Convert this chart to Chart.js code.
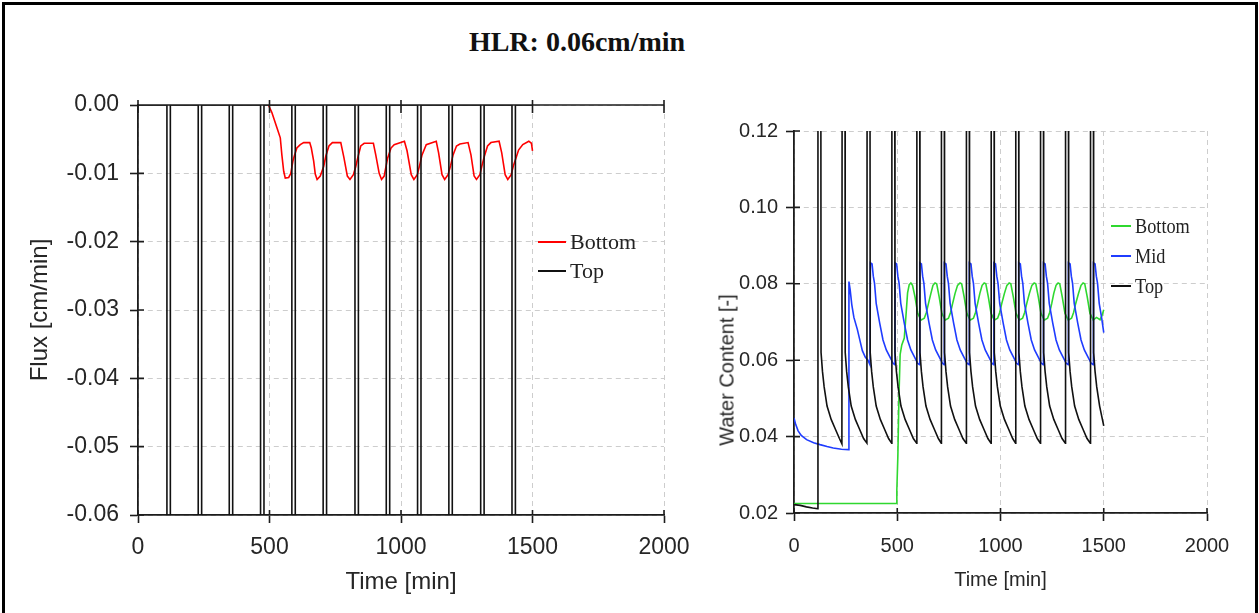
<!DOCTYPE html>
<html>
<head>
<meta charset="utf-8">
<title>HLR: 0.06cm/min</title>
<script src="https://cdn.jsdelivr.net/npm/chart.js@4.4.1/dist/chart.umd.min.js"></script>
<style>
  html, body { margin: 0; padding: 0; background: #fff; }
  body { width: 1259px; height: 613px; position: relative; overflow: hidden; }
  #frame { position: absolute; left: 2px; top: 2px; width: 1250px; height: 660px; border: 3px solid #000; }
  #title { position: absolute; left: 0; top: 27px; width: 1154px; text-align: center;
           font: bold 28px 'Liberation Serif', 'Times New Roman', serif; color: #111; line-height: 1.1; }
  #fluxChart { position: absolute; left: 0; top: 0; }
  #wcChart { position: absolute; left: 690px; top: 0; }
  .legend { position: absolute; font-family: 'Liberation Serif', 'Times New Roman', serif; color: #222; }
  .legend .row { display: flex; align-items: center; white-space: nowrap; }
  .legend .swatch { display: inline-block; height: 2px; }
  #fluxLegend { left: 538px; top: 227px; font-size: 22px; }
  #fluxLegend .row { height: 29px; }
  #fluxLegend .swatch { width: 28px; margin-right: 4px; }
  #wcLegend { left: 1111px; top: 211px; font-size: 22px; }
  #wcLegend .row { height: 30px; }
  #wcLegend .swatch { width: 20px; margin-right: 4px; }
  #wcLegend .txt { display: inline-block; transform: scaleX(0.83); transform-origin: left center; }
  #wcYTitle { position: absolute; left: 727px; top: 370px; transform: translate(-50%, -50%) rotate(-90deg);
              white-space: nowrap; font: 20px 'Liberation Sans', Arial, sans-serif; color: #262626; }
</style>
</head>
<body>
<div id="frame"></div>
<div id="title">HLR: 0.06cm/min</div>
<canvas id="fluxChart" width="710" height="613"></canvas>
<canvas id="wcChart" width="569" height="613"></canvas>
<div id="fluxLegend" class="legend"></div>
<div id="wcLegend" class="legend"></div>
<div id="wcYTitle">Water Content [-]</div>
<script>
// tick values
const timeTicks = [0, 500, 1000, 1500, 2000];
const fluxTicks = [0, -0.01, -0.02, -0.03, -0.04, -0.05, -0.06];
const wcTicks = [0.02, 0.04, 0.06, 0.08, 0.10, 0.12];

// left chart: flux [cm/min] vs time [min]
const fluxBottom = [
  [496, 0], [509, -0.0011], [528, -0.0033], [541, -0.0048], [547, -0.0073], [554, -0.0097], [560, -0.0107],
  [573, -0.0106], [581, -0.0100], [589, -0.0082], [594, -0.0075], [604, -0.0063], [617, -0.0058], [630, -0.0055],
  [653, -0.0055], [659, -0.0063], [668, -0.0082], [674, -0.0101], [681, -0.0109], [693, -0.0104], [706, -0.0090],
  [714, -0.0075], [726, -0.0060], [739, -0.0055], [771, -0.0055], [783, -0.0077], [796, -0.0104], [806, -0.0109],
  [819, -0.0102], [828, -0.0090], [837, -0.0075], [847, -0.0060], [860, -0.0056], [895, -0.0056], [904, -0.0073],
  [917, -0.0100], [926, -0.0109], [936, -0.0104], [949, -0.0078], [962, -0.0063], [974, -0.0058], [1013, -0.0053],
  [1023, -0.0067], [1039, -0.0102], [1049, -0.0109], [1062, -0.0102], [1071, -0.0088], [1080, -0.0073],
  [1096, -0.0058], [1134, -0.0053], [1143, -0.0070], [1156, -0.0102], [1166, -0.0109], [1179, -0.0102],
  [1189, -0.0088], [1198, -0.0073], [1211, -0.0060], [1224, -0.0057], [1255, -0.0055], [1266, -0.0073],
  [1278, -0.0104], [1287, -0.0109], [1300, -0.0102], [1307, -0.0090], [1317, -0.0075], [1329, -0.0060],
  [1342, -0.0055], [1373, -0.0053], [1383, -0.0070], [1396, -0.0102], [1406, -0.0109], [1419, -0.0102],
  [1428, -0.0088], [1437, -0.0078], [1447, -0.0066], [1463, -0.0058], [1486, -0.0053], [1496, -0.0056], [1500, -0.0067]
];
const fluxTop = [
  [0, 0], [110, 0], [110, -0.6], [123, -0.6], [123, 0],
  [229, 0], [229, -0.6], [242, -0.6], [242, 0],
  [347, 0], [347, -0.6], [360, -0.6], [360, 0],
  [466, 0], [466, -0.6], [479, -0.6], [479, 0],
  [585, 0], [585, -0.6], [598, -0.6], [598, 0],
  [704, 0], [704, -0.6], [717, -0.6], [717, 0],
  [825, 0], [825, -0.6], [838, -0.6], [838, 0],
  [944, 0], [944, -0.6], [957, -0.6], [957, 0],
  [1063, 0], [1063, -0.6], [1076, -0.6], [1076, 0],
  [1182, 0], [1182, -0.6], [1195, -0.6], [1195, 0],
  [1303, 0], [1303, -0.6], [1316, -0.6], [1316, 0],
  [1422, 0], [1422, -0.6], [1435, -0.6], [1435, 0], [1500, 0]
];

// right chart: water content [-] vs time [min]
const wcBottom = [
  [0, 0.0225], [494, 0.0225], [498, 0.026], [503, 0.035], [508, 0.050], [514, 0.0615], [522, 0.064], [534, 0.0658],
  [542, 0.0715], [550, 0.0776], [558, 0.0798], [566, 0.0802], [574, 0.0796], [586, 0.0766], [599, 0.0723],
  [615, 0.0705], [631, 0.071], [641, 0.0725], [651, 0.0748], [663, 0.0775], [673, 0.0796],
  [683, 0.0802], [691, 0.080], [703, 0.0766], [716, 0.0723], [732, 0.0705], [748, 0.071], [758, 0.0725],
  [768, 0.0748], [780, 0.0775], [792, 0.0796],
  [804, 0.0802], [812, 0.080], [824, 0.0766], [837, 0.0723], [853, 0.0705], [869, 0.071], [879, 0.0725],
  [889, 0.0748], [900, 0.0775], [911, 0.0796],
  [921, 0.0802], [929, 0.080], [941, 0.0766], [954, 0.0723], [970, 0.0705], [986, 0.071], [996, 0.0725],
  [1006, 0.0748], [1019, 0.0775], [1031, 0.0796],
  [1042, 0.0802], [1050, 0.080], [1062, 0.0766], [1075, 0.0723], [1091, 0.0705], [1107, 0.071], [1117, 0.0725],
  [1127, 0.0748], [1140, 0.0775], [1152, 0.0796],
  [1163, 0.0802], [1171, 0.080], [1183, 0.0766], [1196, 0.0723], [1212, 0.0705], [1228, 0.071], [1238, 0.0725],
  [1248, 0.0748], [1258, 0.0775], [1269, 0.0796],
  [1279, 0.0802], [1287, 0.080], [1299, 0.0766], [1312, 0.0723], [1328, 0.0705], [1344, 0.071], [1354, 0.0725],
  [1364, 0.0748], [1378, 0.0775], [1390, 0.0796],
  [1400, 0.0802], [1408, 0.080], [1420, 0.0766], [1433, 0.0723], [1449, 0.0705], [1465, 0.0712], [1482, 0.0706],
  [1492, 0.0718], [1500, 0.0732]
];
const wcMid = [
  [0, 0.0449], [8, 0.0432], [20, 0.0415], [35, 0.0403], [61, 0.0392], [95, 0.0384], [126, 0.0379], [160, 0.0374],
  [190, 0.037], [230, 0.0367], [265, 0.0366],
  [266, 0.0806], [272, 0.0784], [280, 0.0745], [290, 0.0712], [307, 0.068], [320, 0.065], [331, 0.0625],
  [345, 0.0608], [358, 0.060], [368, 0.0588],
  [370, 0.0855], [378, 0.0852], [384, 0.082], [390, 0.0801], [398, 0.0749], [415, 0.0697], [431, 0.0653],
  [447, 0.0627], [463, 0.061], [480, 0.0592], [488, 0.0588],
  [489, 0.0855], [497, 0.0852], [503, 0.082], [509, 0.0801], [517, 0.0749], [534, 0.0697], [550, 0.0653],
  [566, 0.0627], [582, 0.061], [599, 0.0592], [608, 0.0588],
  [609, 0.0855], [617, 0.0852], [623, 0.082], [629, 0.0801], [637, 0.0749], [654, 0.0697], [670, 0.0653],
  [686, 0.0627], [702, 0.061], [719, 0.0592], [727, 0.0588],
  [728, 0.0855], [736, 0.0852], [742, 0.082], [748, 0.0801], [756, 0.0749], [773, 0.0697], [789, 0.0653],
  [805, 0.0627], [821, 0.061], [838, 0.0592], [848, 0.0588],
  [849, 0.0855], [857, 0.0852], [863, 0.082], [869, 0.0801], [877, 0.0749], [894, 0.0697], [910, 0.0653],
  [926, 0.0627], [942, 0.061], [959, 0.0592], [967, 0.0588],
  [968, 0.0855], [976, 0.0852], [982, 0.082], [988, 0.0801], [996, 0.0749], [1013, 0.0697], [1029, 0.0653],
  [1045, 0.0627], [1061, 0.061], [1078, 0.0592], [1087, 0.0588],
  [1088, 0.0855], [1096, 0.0852], [1102, 0.082], [1108, 0.0801], [1116, 0.0749], [1133, 0.0697], [1149, 0.0653],
  [1165, 0.0627], [1181, 0.061], [1198, 0.0592], [1207, 0.0588],
  [1208, 0.0855], [1216, 0.0852], [1222, 0.082], [1228, 0.0801], [1236, 0.0749], [1253, 0.0697], [1269, 0.0653],
  [1285, 0.0627], [1301, 0.061], [1318, 0.0592], [1328, 0.0588],
  [1329, 0.0855], [1337, 0.0852], [1343, 0.082], [1349, 0.0801], [1357, 0.0749], [1374, 0.0697], [1390, 0.0653],
  [1406, 0.0627], [1422, 0.061], [1439, 0.0592], [1449, 0.0588],
  [1450, 0.0855], [1458, 0.0852], [1464, 0.082], [1470, 0.0801], [1478, 0.0749], [1490, 0.071], [1500, 0.0672]
];
const wcTop = [
  [0, 0.0222], [30, 0.022], [60, 0.0216], [90, 0.0213], [115, 0.0211],
  [116, 0.135], [130, 0.135], [131, 0.062], [138, 0.057], [146, 0.053], [160, 0.048], [180, 0.0445], [200, 0.042], [220, 0.0395], [232, 0.0381],
  [233, 0.135], [247, 0.135], [248, 0.062], [255, 0.057], [263, 0.053], [277, 0.048], [297, 0.0445], [317, 0.042], [337, 0.0395], [353, 0.0383],
  [354, 0.135], [368, 0.135], [369, 0.062], [376, 0.057], [384, 0.053], [398, 0.048], [418, 0.0445], [438, 0.042], [458, 0.0395], [473, 0.0383],
  [474, 0.135], [488, 0.135], [489, 0.062], [496, 0.057], [504, 0.053], [518, 0.048], [538, 0.0445], [558, 0.042], [578, 0.0395], [594, 0.0383],
  [595, 0.135], [609, 0.135], [610, 0.062], [617, 0.057], [625, 0.053], [639, 0.048], [659, 0.0445], [679, 0.042], [699, 0.0395], [713, 0.0383],
  [714, 0.135], [728, 0.135], [729, 0.062], [736, 0.057], [744, 0.053], [758, 0.048], [778, 0.0445], [798, 0.042], [818, 0.0395], [834, 0.0383],
  [835, 0.135], [849, 0.135], [850, 0.062], [857, 0.057], [865, 0.053], [879, 0.048], [899, 0.0445], [919, 0.042], [939, 0.0395], [954, 0.0383],
  [955, 0.135], [969, 0.135], [970, 0.062], [977, 0.057], [985, 0.053], [999, 0.048], [1019, 0.0445], [1039, 0.042], [1059, 0.0395], [1073, 0.0383],
  [1074, 0.135], [1088, 0.135], [1089, 0.062], [1096, 0.057], [1104, 0.053], [1118, 0.048], [1138, 0.0445], [1158, 0.042], [1178, 0.0395], [1193, 0.0383],
  [1194, 0.135], [1208, 0.135], [1209, 0.062], [1216, 0.057], [1224, 0.053], [1238, 0.048], [1258, 0.0445], [1278, 0.042], [1298, 0.0395], [1314, 0.0383],
  [1315, 0.135], [1329, 0.135], [1330, 0.062], [1337, 0.057], [1345, 0.053], [1359, 0.048], [1379, 0.0445], [1399, 0.042], [1419, 0.0395], [1435, 0.0383],
  [1436, 0.135], [1450, 0.135], [1451, 0.062], [1458, 0.057], [1466, 0.053], [1480, 0.048], [1500, 0.0428]
];

const axisColor = '#1c1c1c';
const gridColor = '#cdcdcd';
const textColor = '#262626';
const sansFont = "'Liberation Sans', Arial, sans-serif";

function points(pairs) {
  return pairs.map(p => ({ x: p[0], y: p[1] }));
}

function line(label, pairs, color, order) {
  return {
    label: label,
    data: points(pairs),
    borderColor: color,
    backgroundColor: color,
    borderWidth: 1.6,
    pointRadius: 0,
    tension: 0,
    fill: false,
    order: order
  };
}

// ticks that cross the axis lines, plus the zero line of the flux plot
const crossTicks = {
  id: 'crossTicks',
  afterDraw(chart, args, opts) {
    const ctx = chart.ctx;
    const a = chart.chartArea;
    const x = chart.scales.x;
    const y = chart.scales.y;
    ctx.save();
    ctx.strokeStyle = axisColor;
    ctx.lineWidth = 1.6;
    ctx.beginPath();
    x.ticks.forEach(t => {
      const px = x.getPixelForValue(t.value);
      ctx.moveTo(px, a.bottom);
      ctx.lineTo(px, a.bottom - 5);
    });
    y.ticks.forEach(t => {
      const py = y.getPixelForValue(t.value);
      ctx.moveTo(a.left, py);
      ctx.lineTo(a.left + 6, py);
    });
    if (opts.zeroLine) {
      const pz = y.getPixelForValue(0);
      ctx.moveTo(a.left, pz);
      ctx.lineTo(a.right, pz);
      x.ticks.forEach(t => {
        const px = x.getPixelForValue(t.value);
        ctx.moveTo(px, pz - 5);
        ctx.lineTo(px, pz + 8);
      });
    }
    ctx.stroke();
    ctx.restore();
  }
};

function axes(cfg) {
  const font = { family: sansFont, size: cfg.tickSize };
  return {
    x: {
      type: 'linear', min: 0, max: 2000,
      afterBuildTicks: s => { s.ticks = timeTicks.map(v => ({ value: v })); },
      afterFit: s => { s.height = cfg.xHeight; },
      grid: { color: gridColor, lineWidth: 1, tickColor: axisColor, tickLength: 8, tickWidth: 1.6 },
      border: { display: true, color: axisColor, width: 1.8, dash: [5, 4] },
      ticks: { color: textColor, font: font, padding: cfg.xPad, maxRotation: 0, autoSkip: false,
               callback: v => String(v) },
      title: { display: true, text: 'Time [min]', color: textColor,
               font: { family: sansFont, size: cfg.titleSize }, padding: { top: 0, bottom: cfg.xTitlePad } }
    },
    y: {
      type: 'linear', min: cfg.yMin, max: cfg.yMax,
      afterBuildTicks: s => { s.ticks = cfg.yTicks.map(v => ({ value: v })); },
      afterFit: s => { s.width = cfg.yWidth; },
      grid: { color: gridColor, lineWidth: 1, tickColor: axisColor, tickLength: 8, tickWidth: 1.6 },
      border: { display: true, color: axisColor, width: 1.8, dash: [5, 4] },
      ticks: { color: textColor, font: font, padding: cfg.yPad, autoSkip: false,
               callback: v => Number(v).toFixed(2) },
      title: { display: cfg.yTitle !== '', text: cfg.yTitle, color: textColor,
               font: { family: sansFont, size: cfg.titleSize }, padding: { top: cfg.yTitlePad, bottom: 0 } }
    }
  };
}

const fluxChart = new Chart(document.getElementById('fluxChart'), {
  type: 'line',
  data: {
    datasets: [
      line('Bottom', fluxBottom, '#ff0000', 1),
      line('Top', fluxTop, '#111111', 0)
    ]
  },
  options: {
    responsive: false,
    animation: false,
    layout: { padding: { top: 105, right: 46, bottom: 0, left: 0 } },
    scales: axes({ tickSize: 23, titleSize: 24, xHeight: 98, xPad: 11, xTitlePad: 16, yWidth: 138, yPad: 11,
                   yMin: -0.06, yMax: 0, yTicks: fluxTicks, yTitle: 'Flux [cm/min]', yTitlePad: 26 }),
    plugins: { legend: { display: false }, tooltip: { enabled: false }, crossTicks: { zeroLine: true } }
  },
  plugins: [crossTicks]
});

const wcChart = new Chart(document.getElementById('wcChart'), {
  type: 'line',
  data: {
    datasets: [
      line('Bottom', wcBottom, '#2fd82f', 2),
      line('Mid', wcMid, '#1f3cff', 1),
      line('Top', wcTop, '#111111', 0)
    ]
  },
  options: {
    responsive: false,
    animation: false,
    layout: { padding: { top: 131, right: 52, bottom: 0, left: 0 } },
    scales: axes({ tickSize: 20, titleSize: 20, xHeight: 100, xPad: 13, xTitlePad: 21, yWidth: 104, yPad: 8,
                   yMin: 0.02, yMax: 0.12, yTicks: wcTicks, yTitle: '', yTitlePad: 0 }),
    plugins: { legend: { display: false }, tooltip: { enabled: false }, crossTicks: { zeroLine: false } }
  },
  plugins: [crossTicks]
});

// html legends read from the datasets
function buildLegend(chart, id) {
  const box = document.getElementById(id);
  chart.data.datasets.forEach(ds => {
    const row = document.createElement('div');
    row.className = 'row';
    const sw = document.createElement('span');
    sw.className = 'swatch';
    sw.style.background = ds.borderColor;
    const tx = document.createElement('span');
    tx.className = 'txt';
    tx.textContent = ds.label;
    row.appendChild(sw);
    row.appendChild(tx);
    box.appendChild(row);
  });
}
buildLegend(fluxChart, 'fluxLegend');
buildLegend(wcChart, 'wcLegend');
</script>
</body>
</html>
